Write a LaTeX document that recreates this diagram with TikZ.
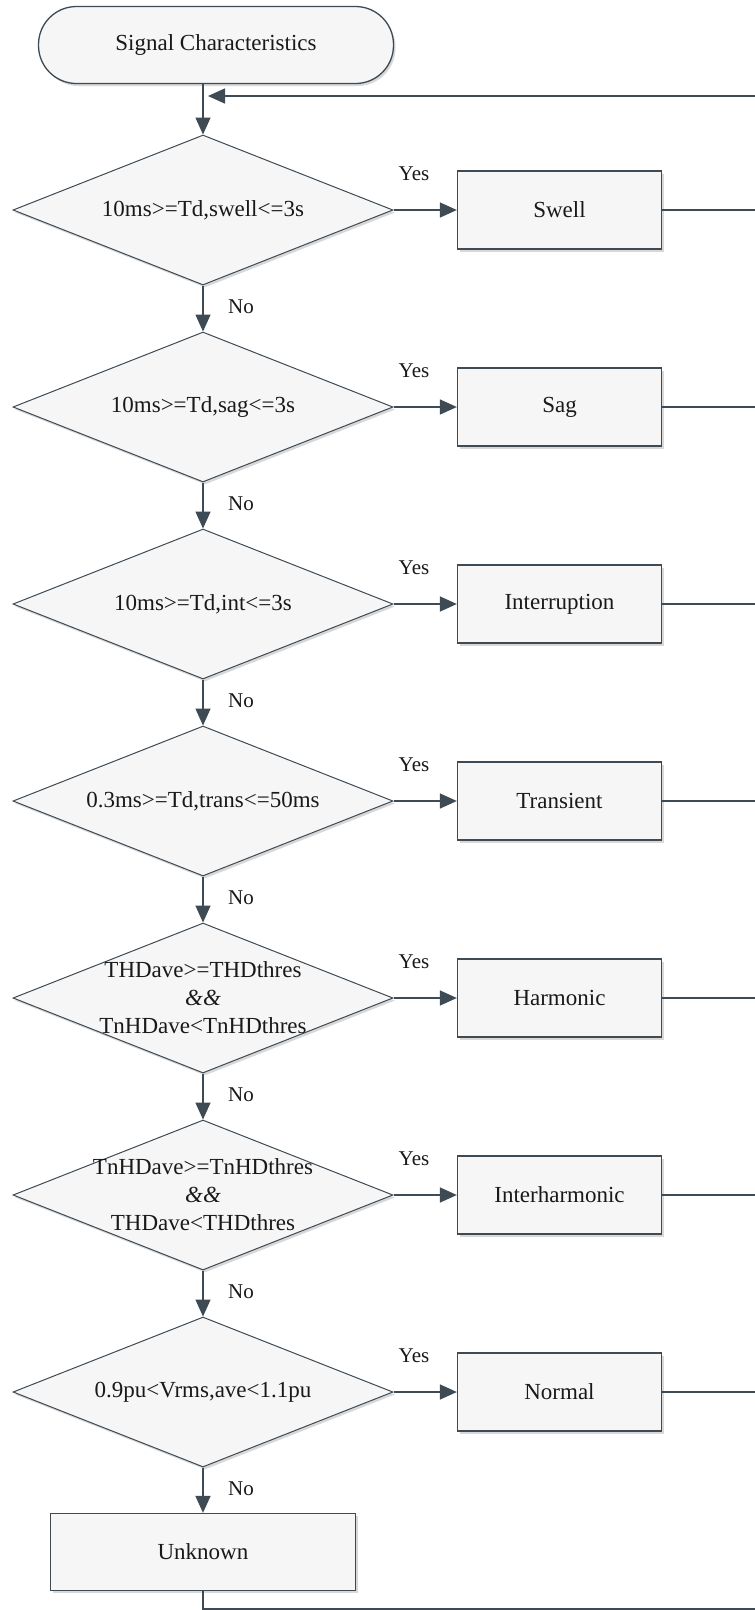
\documentclass[tikz,border=0pt]{standalone}
\usepackage{fontspec}
\setmainfont{Liberation Serif}
\newfontfamily\lblfont{Liberation Serif}
\usetikzlibrary{arrows.meta,shapes.geometric,shadows,calc}
\definecolor{ln}{HTML}{3E4A54}
\definecolor{fl}{HTML}{F6F6F6}
\begin{document}
\begin{tikzpicture}[x=1pt,y=-1pt,
  every node/.style={font=\fontsize{23}{28}\selectfont},
  shd/.style={drop shadow={shadow xshift=2pt,shadow yshift=-2.5pt,fill=black!30,opacity=0.5}},
  dia/.style={diamond,draw=ln,fill=fl,line width=1pt,minimum width=380pt,minimum height=150pt,inner sep=0pt,shd},
  box/.style={rectangle,draw=ln,fill=fl,line width=1.3pt,minimum width=204pt,minimum height=78pt,inner sep=0pt,shd},
  startbox/.style={rectangle,rounded corners=38pt,draw=ln,fill=fl,line width=1.3pt,minimum width=355pt,minimum height=77pt,inner sep=0pt,shd},
  txt/.style={align=center,inner sep=0pt,text=black!90},
  lbl/.style={font=\lblfont\fontsize{21}{24}\selectfont,inner sep=0pt,text=black!90},
  conn/.style={draw=ln,line width=1.5pt},
  arr/.style={conn,-{Triangle[length=17pt,width=15pt]}}]
\clip (0,0) rectangle (755,1610);
\fill[white] (0,0) rectangle (755,1610);

\node[startbox] (s) at (216,45) {};
\node[txt] (st) at (s) {Signal Characteristics};
\coordinate (j) at (203,96);
\coordinate (rtop) at (762,96);

\foreach \i/\txt/\bx in {
  1/{10ms>=Td,swell<=3s}/Swell,
  2/{10ms>=Td,sag<=3s}/Sag,
  3/{10ms>=Td,int<=3s}/Interruption,
  4/{0.3ms>=Td,trans<=50ms}/Transient,
  5/{THDave>=THDthres\\\textit{\&\&}\\TnHDave<TnHDthres}/Harmonic,
  6/{TnHDave>=TnHDthres\\\textit{\&\&}\\THDave<THDthres}/Interharmonic,
  7/{0.9pu<Vrms,ave<1.1pu}/Normal}{
  \pgfmathsetmacro\yy{210+197*(\i-1)}
  \node[dia] (d\i) at (203,\yy) {};
  \node[txt] (t\i) at (d\i) {\txt};
  \node[box] (b\i) at (559.5,\yy) {};
  \node[txt] (bt\i) at (b\i) {\bx};
  \coordinate (r\i) at (762,\yy);
  \draw[arr] (d\i.east) -- (b\i.west);
  \node[lbl] (yes\i) at (414,\yy-36) {Yes};
  \draw[conn] (b\i.east) -- (r\i);
}

\foreach \i [evaluate=\i as \k using int(\i+1)] in {1,...,6}{
  \draw[arr] (d\i.south) -- (d\k.north);
  \node[lbl] (no\i) at ($(d\i.south)+(38,21)$) {No};
}

\node[box,minimum width=305pt,minimum height=77pt] (u) at (203,1552) {};
\node[txt] (ut) at (u) {Unknown};
\draw[arr] (d7.south) -- (u.north);
\node[lbl] (no7) at (241,1489) {No};

\coordinate (ubot) at (203,1609);
\coordinate (rbot) at (762,1609);
\draw[conn] (u.south) -- (ubot) -- (rbot) -- (rtop);
\draw[arr] (rtop) -- ([xshift=5pt]j);
\draw[arr] (s.south -| d1.north) -- (d1.north);
\end{tikzpicture}
\end{document}
